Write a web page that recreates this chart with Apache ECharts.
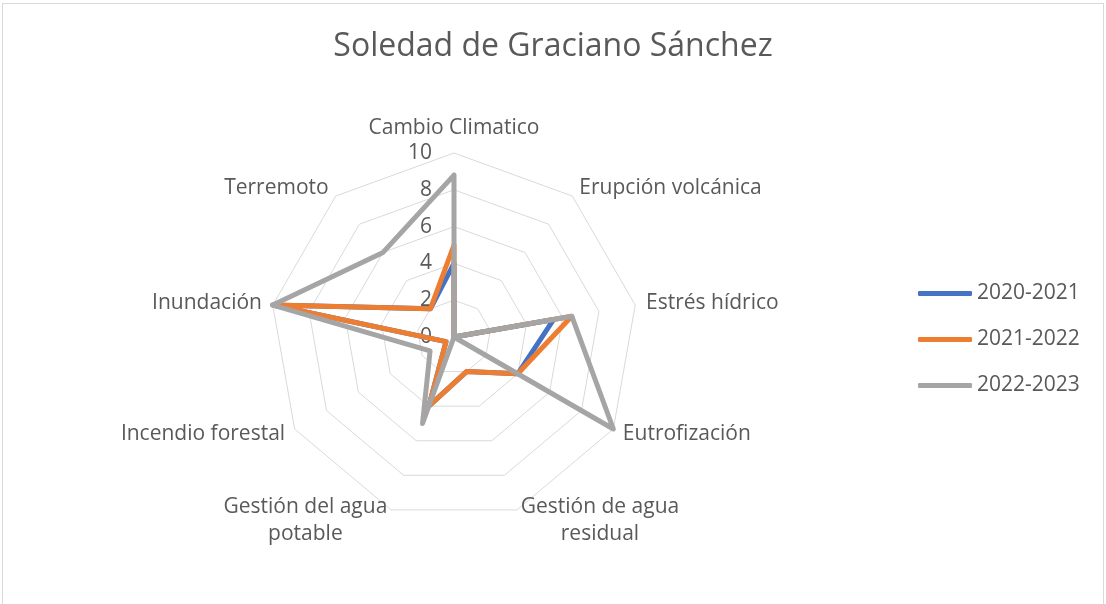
<!DOCTYPE html>
<html>
<head>
<meta charset="utf-8">
<script src="https://cdn.jsdelivr.net/npm/echarts@6/dist/echarts.min.js"></script>
<style>
  body { margin: 0; background: #fff; }
  #chart { position: absolute; left: 0; top: 0; width: 1106px; height: 604px; }
  #frame { position: absolute; left: 2px; top: 3px; width: 1100px; height: 620px; border: 1px solid #d9d9d9; pointer-events: none; }
</style>
</head>
<body>
<div id="chart"></div>
<div id="frame"></div>
<script>
// categories in the order Excel draws them (clockwise from the top)
const categories = [
  "Cambio Climatico",
  "Erupción volcánica",
  "Estrés hídrico",
  "Eutrofización",
  "Gestión de agua\nresidual",
  "Gestión del agua\npotable",
  "Incendio forestal",
  "Inundación",
  "Terremoto"
];
const seriesNames = ["2020-2021", "2021-2022", "2022-2023"];
const values2020 = [4, 0, 5.5, 4, 2, 4, 0.5, 10, 2];
const values2021 = [5, 0, 6.5, 4, 2, 4, 0.5, 10, 2];
const values2022 = [8.8, 0, 6.5, 10, 0, 5, 1.5, 10, 6];
const colors = ["#4472C4", "#ED7D31", "#A5A5A5"];

// echarts radar goes counter-clockwise, so keep the first axis and reverse the rest
const order = [0, 8, 7, 6, 5, 4, 3, 2, 1];
const pick = arr => order.map(i => arr[i]);

const textColor = "#595959";
const font = "Open Sans";

const indicator = pick(categories).map((name, i) => {
  const ind = { name: name, min: 0, max: 10 };
  if (i === 0) {
    ind.axisLabel = { show: true };
  }
  return ind;
});

const chart = echarts.init(document.getElementById("chart"));
chart.setOption({
  animation: false,
  title: {
    text: "Soledad de Graciano Sánchez",
    left: "center",
    top: 26,
    textStyle: { fontFamily: font, fontSize: 32, fontWeight: "normal", color: textColor }
  },
  legend: {
    orient: "vertical",
    left: 918,
    top: 283,
    padding: 0,
    itemWidth: 54,
    itemHeight: 5,
    itemGap: 25,
    icon: "roundRect",
    data: seriesNames,
    textStyle: { fontFamily: font, fontSize: 21, color: textColor }
  },
  radar: {
    center: [454, 337],
    radius: 184,
    startAngle: 90,
    shape: "polygon",
    splitNumber: 5,
    indicator: indicator,
    axisName: {
      formatter: name => name.split("\n").map(s => "{a|" + s + "}").join("\n"),
      rich: {
        a: { fontFamily: font, fontSize: 21, color: textColor, align: "center", lineHeight: 27 }
      }
    },
    nameGap: 11,
    axisLine: { show: false },
    axisTick: { show: false },
    axisLabel: { show: false, fontFamily: font, fontSize: 21, color: textColor, margin: 22 },
    splitLine: { lineStyle: { color: "#d9d9d9", width: 1 } },
    splitArea: { show: false }
  },
  series: [{
    type: "radar",
    symbol: "none",
    data: [values2020, values2021, values2022].map((v, i) => ({
      name: seriesNames[i],
      value: pick(v),
      lineStyle: { color: colors[i], width: 5, join: "round", cap: "round" },
      itemStyle: { color: colors[i] }
    }))
  }]
});
</script>
</body>
</html>
